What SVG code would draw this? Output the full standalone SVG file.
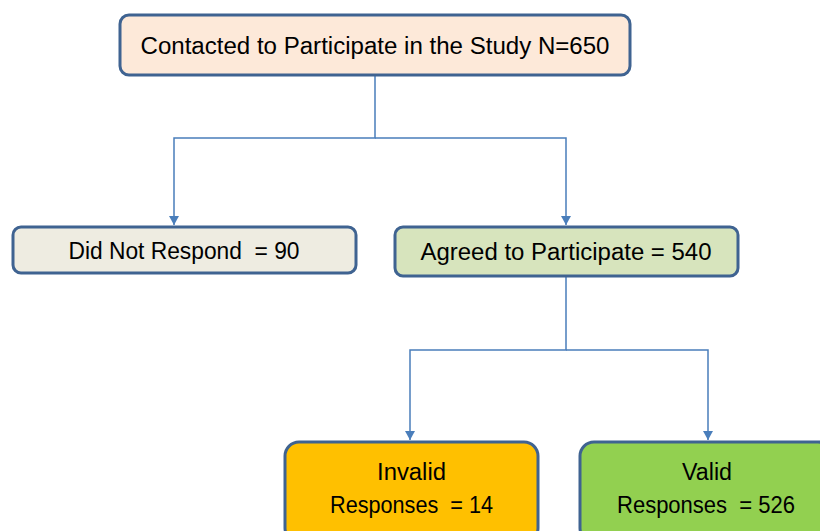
<svg xmlns="http://www.w3.org/2000/svg" width="820" height="531" viewBox="0 0 820 531">
<defs>
<style>
.box{stroke:#3f6391;stroke-width:3}
.t{font-family:"Liberation Sans",Arial,sans-serif;font-size:23px;fill:#000;text-anchor:middle;white-space:pre}
.c{fill:none;stroke:#4a7ebb;stroke-width:1.5}
</style>
<marker id="ah" markerWidth="11" markerHeight="10" viewBox="0 0 10 11" refX="10" refY="5.5" orient="auto" markerUnits="userSpaceOnUse">
<path d="M0,0 L10,5.5 L0,11 Z" fill="#4a7ebb"/>
</marker>
</defs>
<rect width="820" height="531" fill="#fff"/>
<g id="connectors">
<path class="c" d="M375,75 V138 H174 V225" marker-end="url(#ah)"/>
<path class="c" d="M375,138 H566 V225" marker-end="url(#ah)"/>
<path class="c" d="M566,277 V350 H410 V440" marker-end="url(#ah)"/>
<path class="c" d="M566,350 H708 V440" marker-end="url(#ah)"/>
</g>
<g id="contacted">
<rect class="box" x="120" y="15" width="510" height="60" rx="9" fill="#fde9d9"/>
<text class="t" x="375" y="54" textLength="469" lengthAdjust="spacingAndGlyphs">Contacted to Participate in the Study N=650</text>
</g>
<g id="did-not-respond">
<rect class="box" x="13" y="227" width="343" height="46" rx="8" fill="#eeece1"/>
<text class="t" x="184" y="259" textLength="231" lengthAdjust="spacingAndGlyphs" xml:space="preserve">Did Not Respond  = 90</text>
</g>
<g id="agreed">
<rect class="box" x="395" y="227" width="343" height="49" rx="8" fill="#d7e4bd"/>
<text class="t" x="566" y="260" textLength="291" lengthAdjust="spacingAndGlyphs">Agreed to Participate = 540</text>
</g>
<g id="invalid">
<rect class="box" x="285" y="442" width="253" height="100" rx="14" fill="#ffc000"/>
<text class="t" x="411.5" y="480" textLength="69" lengthAdjust="spacingAndGlyphs">Invalid</text>
<text class="t" x="411.5" y="513" textLength="163" lengthAdjust="spacingAndGlyphs" xml:space="preserve">Responses  = 14</text>
</g>
<g id="valid">
<rect class="box" x="580" y="442" width="252" height="100" rx="14" fill="#92d050"/>
<text class="t" x="707" y="480" textLength="50" lengthAdjust="spacingAndGlyphs">Valid</text>
<text class="t" x="706" y="513" textLength="178" lengthAdjust="spacingAndGlyphs" xml:space="preserve">Responses  = 526</text>
</g>
</svg>
